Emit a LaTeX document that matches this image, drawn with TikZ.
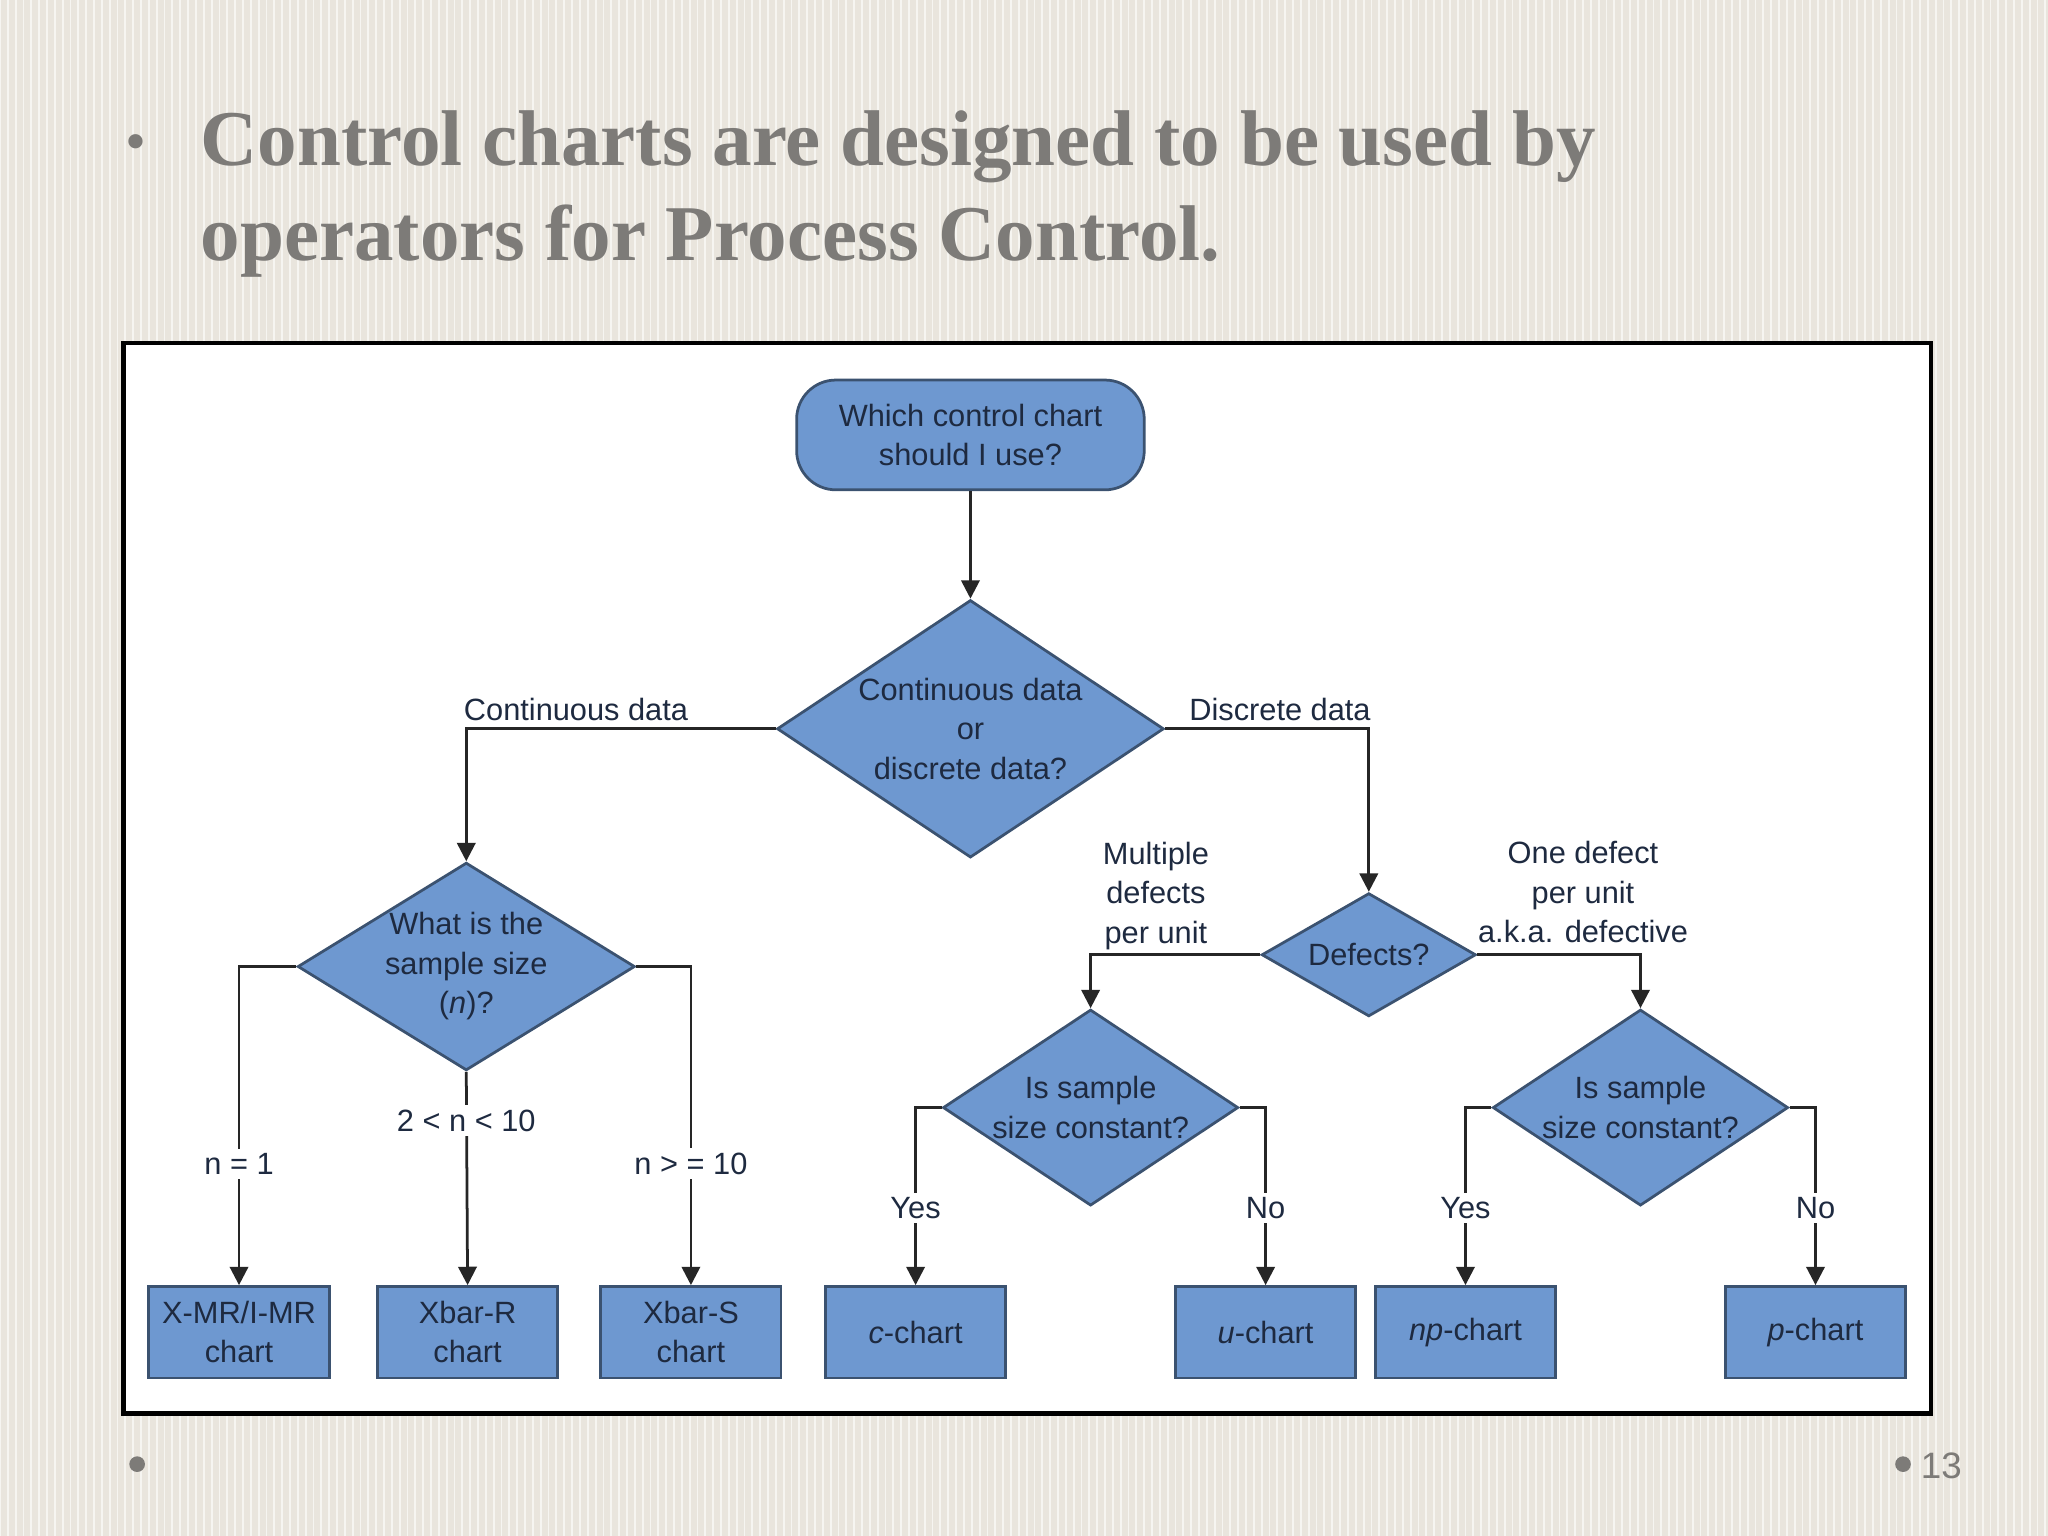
\documentclass[tikz,border=0pt]{standalone}
\usepackage{fontspec}
\setmainfont{Liberation Serif}
\newfontfamily\dsans{Liberation Sans}
\usetikzlibrary{shapes.geometric,arrows.meta}
\definecolor{bg}{HTML}{E9E5DD}
\definecolor{nodeblue}{HTML}{6E98D0}
\definecolor{nodeedge}{HTML}{3B5270}
\definecolor{ntext}{HTML}{1E2A40}
\definecolor{ttl}{HTML}{7D7B78}
\begin{document}
\begin{tikzpicture}[x=0.01cm,y=-0.01cm,
  every node/.style={font=\dsans\fontsize{6.7}{8.6}\selectfont, text=ntext},
  dia/.style={diamond, draw=nodeedge, line width=0.6pt, fill=nodeblue, inner sep=0pt, align=center, minimum height=0pt},
  chartbox/.style={draw=nodeedge, line width=0.6pt, fill=nodeblue, minimum width=1.38cm, minimum height=0.70cm, align=center, inner sep=1pt},
  lbl/.style={align=center, inner sep=1pt},
  conn/.style={draw=black!85, line width=0.6pt, -{Triangle[length=4pt,width=4pt]}}]
\useasboundingbox (0,0) rectangle (1568,1176);
\fill[bg] (0,0) rectangle (1568,1176);
\foreach \i in {0,6,...,1566} \draw[white!60!bg, line width=0.4pt] (\i,0) -- (\i,1176);
% title
\node[text=ttl, font=\fontsize{13}{15}\selectfont] (bul) at (104,113) {•};
\node[anchor=north west, text=ttl, align=left, inner sep=0pt, font=\fontsize{17.2}{20.6}\selectfont\bfseries] (title) at (153,84) {Control charts are designed to be used by\\operators for Process Control.};
% panel
\node[draw=black, line width=0.9pt, fill=white, minimum width=13.83cm, minimum height=8.19cm, inner sep=0pt] (panel) at (786.5,672.5) {};
% nodes
\node[draw=nodeedge, line width=0.6pt, fill=nodeblue, rounded corners=0.3cm, minimum width=2.66cm, minimum height=0.84cm, align=center] (start) at (743,333) {Which control chart\\should I use?};
\node[dia, aspect=1.437, minimum width=2.96cm] (d1) at (743,558) {Continuous data\\or\\discrete data?};
\node[dia, aspect=1.623, minimum width=2.50cm] (d2) at (357,740) {What is the\\sample size\\(\textit{n})?};
\node[dia, aspect=1.206, minimum width=1.64cm] (d3) at (1048,731) {Defects?};
\node[dia, aspect=1.468, minimum width=2.26cm] (d4) at (835,848) {Is sample\\size constant?};
\node[dia, aspect=1.468, minimum width=2.26cm] (d5) at (1256,848) {Is sample\\size constant?};
\node[chartbox] (b1) at (183,1020) {X-MR/I-MR\\chart};
\node[chartbox] (b2) at (358,1020) {Xbar-R\\chart};
\node[chartbox] (b3) at (529,1020) {Xbar-S\\chart};
\node[chartbox] (b4) at (701,1020) {\textit{c}-chart};
\node[chartbox] (b5) at (969,1020) {\textit{u}-chart};
\node[chartbox] (b6) at (1122,1020) {\textit{np}-chart};
\node[chartbox] (b7) at (1390,1020) {\textit{p}-chart};
% connectors
\draw[conn] (start) -- (d1);
\draw[conn] (d1.west) -| (d2.north);
\draw[conn] (d1.east) -| (d3.north);
\draw[conn] (d2.west) -| (b1.north);
\draw[conn] (d2.south) -- (b2.north);
\draw[conn] (d2.east) -| (b3.north);
\draw[conn] (d3.west) -| (d4.north);
\draw[conn] (d3.east) -| (d5.north);
\draw[conn] (d4.west) -| (b4.north);
\draw[conn] (d4.east) -| (b5.north);
\draw[conn] (d5.west) -| (b6.north);
\draw[conn] (d5.east) -| (b7.north);
% labels
\node[lbl] (l1) at (441,543) {Continuous data};
\node[lbl] (l2) at (980,543) {Discrete data};
\node[lbl, fill=white] (l3) at (183,891) {n = 1};
\node[lbl, fill=white] (l4) at (357,858) {2 < n < 10};
\node[lbl, fill=white] (l5) at (529,891) {n > = 10};
\node[lbl] (l6) at (885,686) {Multiple\\defects\\per unit};
\node[lbl] (l7) at (1212,683) {One defect\\per unit\\a.k.a. defective};
\node[lbl, fill=white] (l8) at (701,925) {Yes};
\node[lbl, fill=white] (l9) at (969,925) {No};
\node[lbl, fill=white] (l10) at (1122,925) {Yes};
\node[lbl, fill=white] (l11) at (1390,925) {No};
% footer
\fill[ttl] (105,1121) circle (6);
\fill[ttl] (1457,1121) circle (6);
\node[text=ttl, font=\dsans\fontsize{8}{10}\selectfont, anchor=west, inner sep=0pt] (pg) at (1470,1122) {13};
\end{tikzpicture}
\end{document}
